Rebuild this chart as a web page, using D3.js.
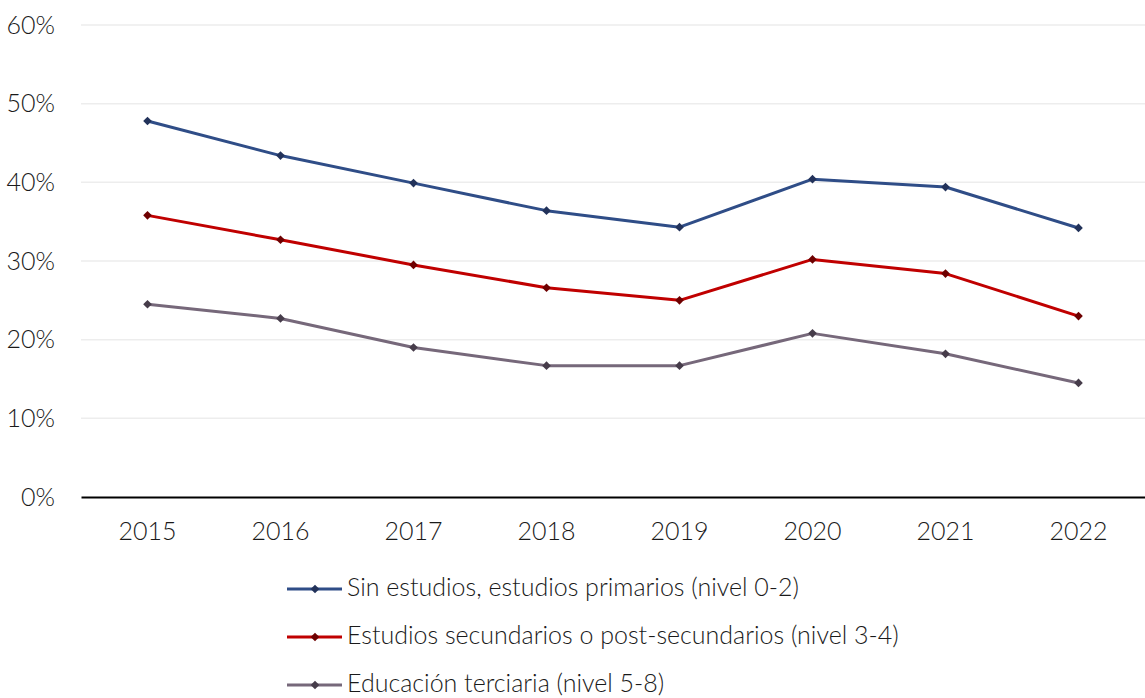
<!DOCTYPE html>
<html>
<head>
<meta charset="utf-8">
<script src="https://cdn.jsdelivr.net/npm/d3@7"></script>
<style>
  html, body { margin: 0; padding: 0; background: #fff; }
  svg { display: block; }
  text { font-family: Lato, "Open Sans", sans-serif; font-weight: 300; fill: #1a1a1a; }
</style>
</head>
<body>
<svg id="chart" width="1145" height="698"></svg>
<script>
const years = ["2015", "2016", "2017", "2018", "2019", "2020", "2021", "2022"];
const seriesNames = [
  "Sin estudios, estudios primarios (nivel 0-2)",
  "Estudios secundarios o post-secundarios (nivel 3-4)",
  "Educación terciaria (nivel 5-8)"
];
const primaria = [47.8, 43.4, 39.9, 36.4, 34.3, 40.4, 39.4, 34.2];
const secundaria = [35.8, 32.7, 29.5, 26.6, 25.0, 30.2, 28.4, 23.0];
const terciaria = [24.5, 22.7, 19.0, 16.7, 16.7, 20.8, 18.2, 14.5];
const yTicks = [0, 10, 20, 30, 40, 50, 60];

const lineColors = ["#2F4D87", "#C00000", "#76687A"];
const markerColors = ["#22325A", "#6E0000", "#463C4A"];
const allSeries = [primaria, secundaria, terciaria];

const svg = d3.select("#chart");
const W = 1145;
const left = 81;

const x = d3.scaleBand().domain(years).range([left, W]);
const y = d3.scaleLinear().domain([0, 60]).range([497, 25]);
const FS = 25;

// gridlines
svg.append("g")
  .selectAll("line")
  .data(yTicks.filter(d => d > 0))
  .join("line")
  .attr("x1", left).attr("x2", W)
  .attr("y1", d => y(d)).attr("y2", d => y(d))
  .attr("stroke", "#EDEDED").attr("stroke-width", 1.5);

// y axis labels
const yAxis = d3.axisLeft(y).tickValues(yTicks).tickFormat(d => d + "%").tickSize(0).tickPadding(0);
const gy = svg.append("g").attr("transform", "translate(55,0)").call(yAxis);
gy.select(".domain").remove();
gy.selectAll("text").attr("font-size", FS).attr("font-family", null).attr("dy", null).attr("y", 8).attr("fill", "#1a1a1a");

// x axis
const xAxis = d3.axisBottom(x).tickSize(0).tickPadding(0);
const gx = svg.append("g").attr("transform", "translate(0,497)").call(xAxis);
gx.select(".domain").attr("stroke", "#000").attr("stroke-width", 2);
gx.selectAll("text").attr("font-size", FS).attr("font-family", null).attr("dy", null).attr("y", 43).attr("fill", "#1a1a1a");

// lines
const line = d3.line()
  .x((d, i) => x(years[i]) + x.bandwidth() / 2)
  .y(d => y(d));

const diamond = d3.symbol().type(d3.symbolDiamond2).size(48);

allSeries.forEach((s, k) => {
  svg.append("path")
    .datum(s)
    .attr("d", line)
    .attr("fill", "none")
    .attr("stroke", lineColors[k])
    .attr("stroke-width", 3)
    .attr("stroke-linejoin", "round");
  svg.append("g")
    .selectAll("path")
    .data(s)
    .join("path")
    .attr("transform", (d, i) => `translate(${x(years[i]) + x.bandwidth() / 2},${y(d)})`)
    .attr("d", diamond)
    .attr("fill", markerColors[k]);
});

// legend
const legY = [589, 637, 685];
const leg = svg.append("g");
seriesNames.forEach((name, k) => {
  const g = leg.append("g").attr("transform", `translate(0,${legY[k]})`);
  g.append("line").attr("x1", 287).attr("x2", 342).attr("y1", 0).attr("y2", 0)
    .attr("stroke", lineColors[k]).attr("stroke-width", 3);
  g.append("path").attr("transform", "translate(315,0)").attr("d", diamond).attr("fill", markerColors[k]);
  g.append("text").attr("x", 347).attr("y", 7)
    .attr("font-size", FS).text(name);
});
</script>
</body>
</html>
